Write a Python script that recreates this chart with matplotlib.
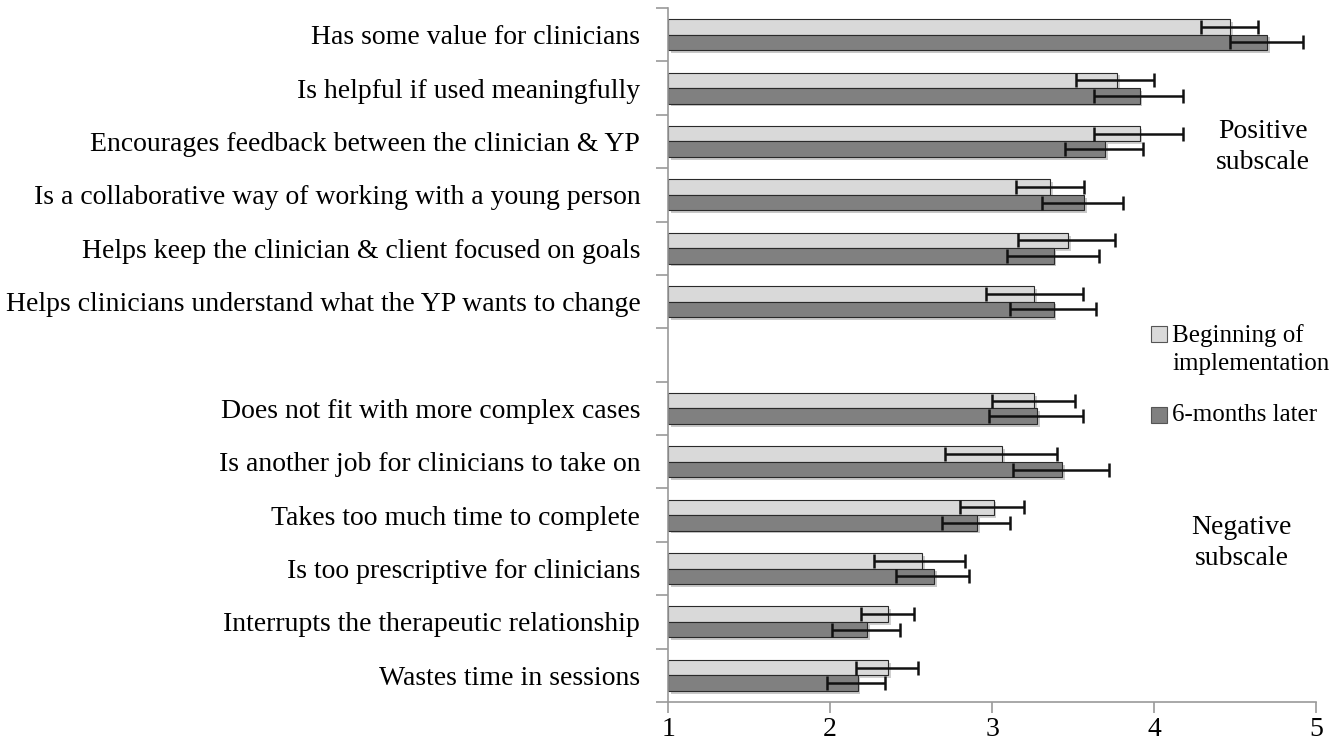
import matplotlib.pyplot as plt
import matplotlib.patheffects as pe
import numpy as np
from matplotlib.patches import Rectangle

statements = [
    "Has some value for clinicians",
    "Is helpful if used meaningfully",
    "Encourages feedback between the clinician & YP",
    "Is a collaborative way of working with a young person",
    "Helps keep the clinician & client focused on goals",
    "Helps clinicians understand what the YP wants to change",
    "Does not fit with more complex cases",
    "Is another job for clinicians to take on",
    "Takes too much time to complete",
    "Is too prescriptive for clinicians",
    "Interrupts the therapeutic relationship",
    "Wastes time in sessions",
]
n_positive = 6

# mean ratings and error-bar ends
beginning = [4.47, 3.77, 3.91, 3.36, 3.47, 3.26, 3.26, 3.06, 3.01, 2.57, 2.36, 2.36]
beginning_lo = [4.29, 3.52, 3.63, 3.15, 3.16, 2.96, 3.00, 2.71, 2.80, 2.27, 2.19, 2.16]
beginning_hi = [4.64, 4.00, 4.18, 3.57, 3.76, 3.56, 3.51, 3.40, 3.20, 2.83, 2.52, 2.54]

later = [4.70, 3.91, 3.70, 3.57, 3.38, 3.38, 3.28, 3.43, 2.91, 2.64, 2.23, 2.17]
later_lo = [4.47, 3.63, 3.45, 3.31, 3.09, 3.11, 2.98, 3.13, 2.69, 2.41, 2.01, 1.98]
later_hi = [4.92, 4.18, 3.93, 3.81, 3.66, 3.64, 3.56, 3.72, 3.11, 2.86, 2.43, 2.34]

series_labels = ["Beginning of\nimplementation", "6-months later"]
light = "#d9d9d9"
dark = "#808080"

plt.rcParams["font.family"] = ["Liberation Serif", "DejaVu Serif"]

fig = plt.figure(figsize=(13.42, 7.55), dpi=100)
ax = fig.add_axes([0.4978, 0.0702, 0.4829, 0.9192])

# one empty slot between the positive and negative subscales
idx = np.arange(len(statements))
slots = np.where(idx < n_positive, idx, idx + 1)
centers = slots + 0.5
h = 0.29

shadow = [pe.SimplePatchShadow(offset=(2, -2), alpha=0.25), pe.Normal()]

def draw(vals, lo, hi, yy, color):
    vals = np.array(vals)
    bars = ax.barh(yy, vals - 1, left=1, height=h, color=color,
                   edgecolor="#2a2a2a", linewidth=0.8, zorder=2)
    for b in bars:
        b.set_path_effects(shadow)
    xerr = [vals - np.array(lo), np.array(hi) - vals]
    ax.errorbar(vals, yy, xerr=xerr, fmt="none", ecolor="#111111",
                elinewidth=1.8, capsize=5, capthick=1.8, zorder=3)

draw(beginning, beginning_lo, beginning_hi, centers - h / 2, light)
draw(later, later_lo, later_hi, centers + h / 2, dark)

n_slots = len(statements) + 1
ax.set_ylim(n_slots, 0)
ax.set_xlim(1, 5)

ax.set_yticks(centers)
ax.set_yticklabels(statements, fontsize=20)
ax.tick_params(axis="y", length=0, pad=20)
ax.set_yticks(np.arange(n_slots + 1), minor=True)
ax.tick_params(axis="y", which="minor", length=9, color="#9a9a9a", width=1.2)

ax.set_xticks([1, 2, 3, 4, 5])
ax.tick_params(axis="x", length=8, color="#9a9a9a", width=1.2, labelsize=20, pad=3)

for s in ["top", "right"]:
    ax.spines[s].set_visible(False)
for s in ["left", "bottom"]:
    ax.spines[s].set_color("#9a9a9a")
    ax.spines[s].set_linewidth(1.2)

ax.text(4.67, 2.6, "Positive\nsubscale", fontsize=20, ha="center", va="center",
        linespacing=1.3)
ax.text(4.54, 10.02, "Negative\nsubscale", fontsize=20, ha="center", va="center",
        linespacing=1.3)

# legend drawn by hand so the swatch sits on the first line of the label
sq_w, sq_h = 0.0119, 0.0212
fig.patches.append(Rectangle((0.8577, 0.547), sq_w, sq_h, transform=fig.transFigure,
                             facecolor=light, edgecolor="#555555", linewidth=0.8))
fig.patches.append(Rectangle((0.8577, 0.4397), sq_w, sq_h, transform=fig.transFigure,
                             facecolor=dark, edgecolor="#555555", linewidth=0.8))
fig.text(0.8733, 0.5377, series_labels[0], fontsize=18, va="center", ha="left",
         linespacing=1.35)
fig.text(0.8733, 0.4503, series_labels[1], fontsize=18, va="center", ha="left")

fig.savefig("out.png", dpi=100)
